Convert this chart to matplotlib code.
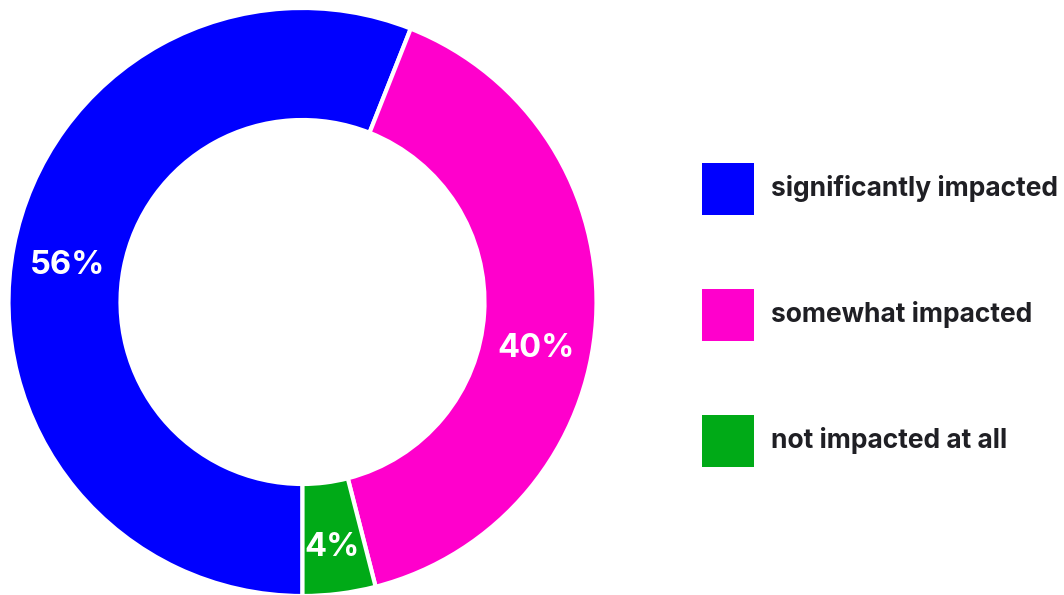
import matplotlib
matplotlib.use("Agg")
import matplotlib.pyplot as plt
from matplotlib.patches import Rectangle
import numpy as np

categories = ["significantly impacted", "somewhat impacted", "not impacted at all"]
values = [56, 40, 4]
colors = ["#0000ff", "#ff00cc", "#00aa17"]

plt.rcParams['font.family'] = ['Inter', 'DejaVu Sans']

W, H = 1064, 595
fig = plt.figure(figsize=(W / 100, H / 100), dpi=100)

cx, cy, R = 302.5, 302, 294
ax = fig.add_axes([(cx - R) / W, (H - cy - R) / H, 2 * R / W, 2 * R / H])
inner = 182 / R
wedges, texts = ax.pie(values, colors=colors, startangle=-90, counterclock=False,
                       radius=1, wedgeprops=dict(width=1 - inner, edgecolor="white", linewidth=3))
ax.set_xlim(-1, 1)
ax.set_ylim(-1, 1)
ax.set_aspect('auto')
ax.axis('off')

# small label placement tweaks (degrees along the ring, radius factor)
label_shift = [2.0, -7.6, -0.3]
label_rad = [0.81, 0.81, 0.84]
for w, v, sh, lr in zip(wedges, values, label_shift, label_rad):
    ang = np.deg2rad((w.theta1 + w.theta2) / 2 + sh)
    ax.text(lr * np.cos(ang), lr * np.sin(ang), f"{v}%", ha="center", va="center",
            color="white", fontsize=23.5, fontweight="bold")

sq = 52
tops = [163, 289, 415]
for cat, col, top in zip(categories, colors, tops):
    fig.add_artist(Rectangle((702 / W, (H - top - sq) / H), sq / W, sq / H,
                             transform=fig.transFigure, facecolor=col, edgecolor="none"))
    fig.text(771 / W, (H - top - sq / 2) / H, cat, ha="left", va="center",
             fontsize=19, fontweight="bold", color="#1f1f24")

fig.savefig("out.png", dpi=100)
